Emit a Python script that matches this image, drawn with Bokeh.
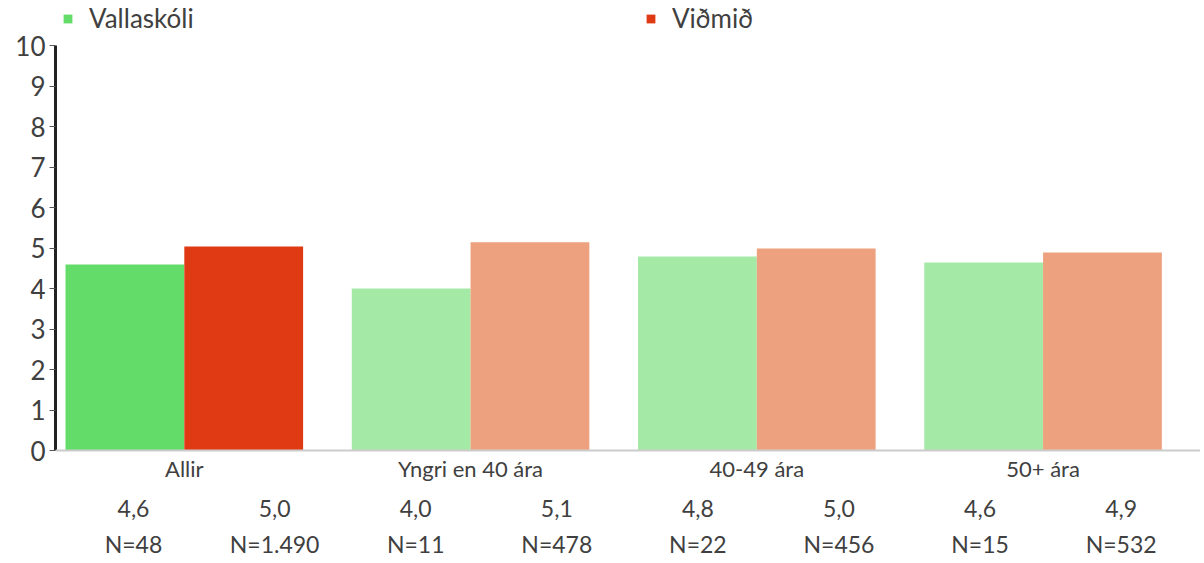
from bokeh.plotting import figure
from bokeh.models import Range1d, FixedTicker, Span, Legend, LegendItem, ColumnDataSource
from bokeh.core.properties import value
from bokeh.embed import file_html
from bokeh.resources import INLINE

# ---- data ----
categories = ["Allir", "Yngri en 40 ára", "40-49 ára", "50+ ára"]
series = ["Vallaskóli", "Viðmið"]
school = [4.59, 4.00, 4.79, 4.64]
reference = [5.04, 5.14, 4.99, 4.89]
school_n = [48, 11, 22, 15]
reference_n = [1490, 478, 456, 532]
yticks = list(range(0, 11))

# ---- styles ----
FONT = "Lato"
TXT = "#404040"
school_colors = ["#64dc69", "#a4e9a5", "#a4e9a5", "#a4e9a5"]
ref_colors = ["#e03a14", "#eea17e", "#eea17e", "#eea17e"]
BAR_W = 0.415

W, H = 1200, 560
LEFT = 55
PX_PER_UNIT = 40.5
ZERO_Y = 450  # canvas pixel of y=0
y_top = 10 + (ZERO_Y - 405) / PX_PER_UNIT
y_bot = -(H - ZERO_Y) / PX_PER_UNIT

p = figure(width=W, height=H, output_backend="svg", toolbar_location=None,
           x_axis_location=None, x_range=Range1d(-0.45, 3.55),
           y_range=Range1d(y_bot, y_top),
           min_border_left=LEFT, min_border_right=0, min_border_top=0,
           min_border_bottom=0)
p.outline_line_color = None
p.grid.visible = False

idx = list(range(len(categories)))
src_s = ColumnDataSource(dict(x=[i - BAR_W / 2 for i in idx], top=school, c=school_colors))
src_r = ColumnDataSource(dict(x=[i + BAR_W / 2 for i in idx], top=reference, c=ref_colors))
r1 = p.vbar(x="x", top="top", width=BAR_W, bottom=0, fill_color="c", line_color=None, source=src_s)
r2 = p.vbar(x="x", top="top", width=BAR_W, bottom=0, fill_color="c", line_color=None, source=src_r)

p.add_layout(Span(location=0, dimension="width", line_color="#cccccc", line_width=2))

ax = p.yaxis[0]
ax.bounds = (0, 10)
ax.ticker = FixedTicker(ticks=yticks)
ax.minor_tick_line_color = None
ax.axis_line_color = "#222222"
ax.axis_line_width = 3
ax.major_tick_line_color = "#555555"
ax.major_tick_out = 6
ax.major_tick_in = 0
ax.major_label_standoff = 4
ax.major_label_text_font = FONT
ax.major_label_text_font_size = "26px"
ax.major_label_text_color = TXT

# category labels
p.text(x=idx, y=[-0.444] * 4, text=categories, text_align="center", text_baseline="middle",
       text_font=value(FONT), text_font_size="22px", text_color=TXT)

# table of values and N below
vals, ns = [], []
for s, r, sn, rn in zip(school, reference, school_n, reference_n):
    vals += [f"{s:.1f}".replace(".", ","), f"{r:.1f}".replace(".", ",")]
    ns += ["N=" + f"{sn:,}".replace(",", "."), "N=" + f"{rn:,}".replace(",", ".")]
col_x = [-0.1775 + 0.4929 * k for k in range(len(vals))]
p.text(x=col_x, y=[-1.42] * len(vals), text=vals, text_align="center", text_baseline="middle",
       text_font=value(FONT), text_font_size="23px", text_color=TXT)
p.text(x=col_x, y=[-2.31] * len(ns), text=ns, text_align="center", text_baseline="middle",
       text_font=value(FONT), text_font_size="23px", text_color=TXT)

# legends
for rend, label, lx in [(r1, series[0], 7), (r2, series[1], 590)]:
    lg = Legend(items=[LegendItem(label=label, renderers=[rend], index=0)],
                location=(lx, H - 34), orientation="horizontal",
                glyph_width=11, glyph_height=11, label_standoff=16,
                padding=0, margin=0, spacing=0,
                border_line_color=None, background_fill_alpha=0,
                label_text_font=FONT, label_text_font_size="26px",
                label_text_color=TXT)
    p.add_layout(lg)

open("out.html", "w").write(file_html(p, INLINE))
